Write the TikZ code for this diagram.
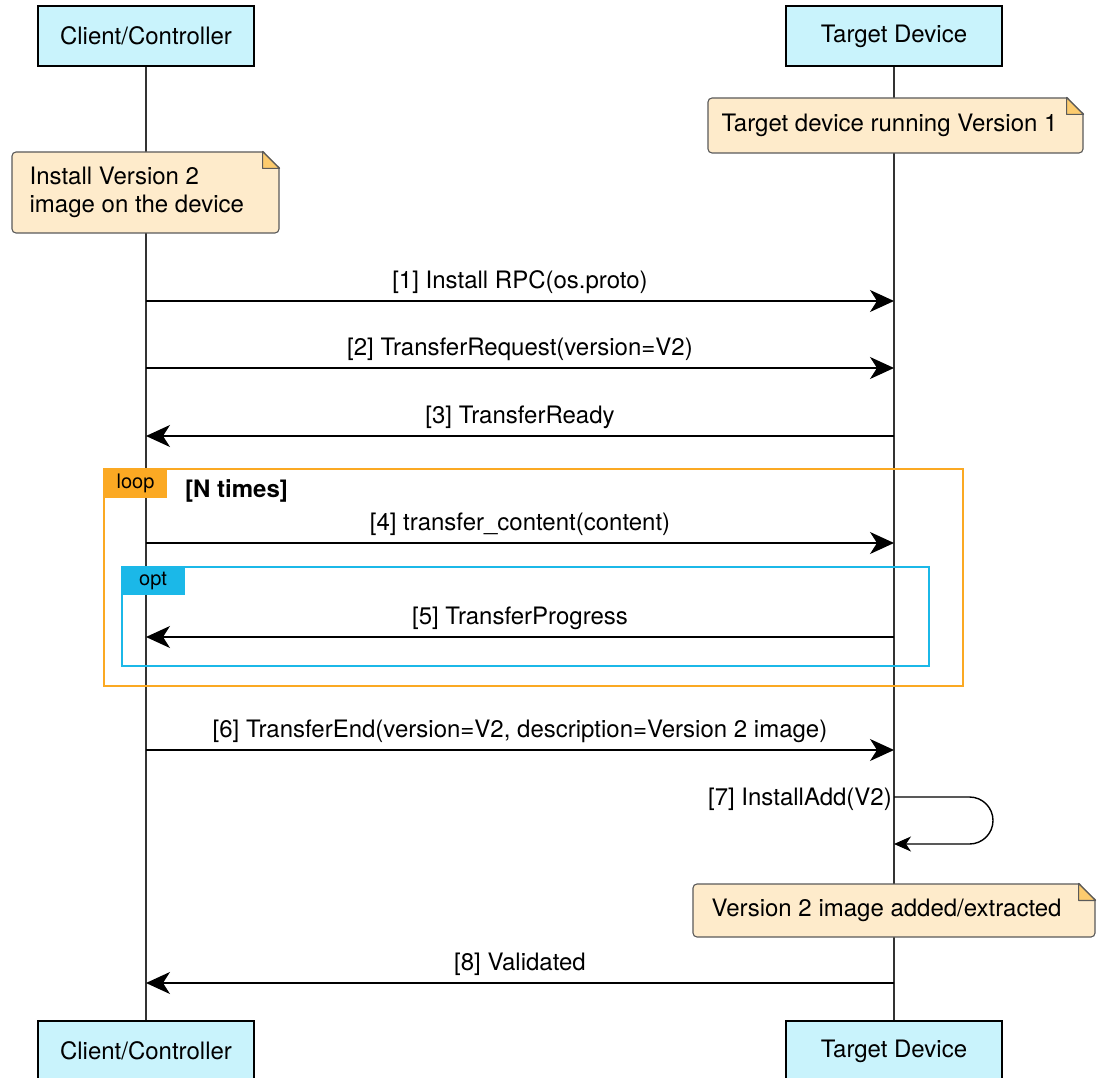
\documentclass[tikz,border=0pt]{standalone}
\usepackage{fontspec}
\setmainfont{TeX Gyre Heros}
\usetikzlibrary{arrows.meta,calc}
\definecolor{partfill}{HTML}{C9F3FC}
\definecolor{notefill}{HTML}{FEEBCB}
\definecolor{earfill}{HTML}{FCCB6E}
\definecolor{noteline}{HTML}{5A5A5A}
\definecolor{looporange}{HTML}{FBA923}
\definecolor{optblue}{HTML}{1BB8E8}
\definecolor{lifegray}{HTML}{333333}
\tikzset{
  participant/.style={draw=black, line width=1.6pt, fill=partfill, minimum width=216, minimum height=60, inner sep=0pt, font=\fontsize{24}{28}\selectfont},
  notebox/.style={draw=noteline, line width=1.1pt, fill=notefill, rounded corners=4pt, inner sep=0pt},
  notetext/.style={inner sep=0pt, anchor=west, font=\fontsize{24}{28.5}\selectfont},
  ear/.style={draw=noteline, line width=1.1pt, fill=earfill, line join=round},
  lifeline/.style={draw=lifegray, line width=1.6pt},
  msg/.style={draw=black, line width=1.4pt, -{Stealth[length=24pt, width=22pt, inset=7pt]}},
  selfmsg/.style={draw=black, line width=1.4pt, -{Stealth[length=17pt, width=15pt, inset=5pt]}},
  msglabel/.style={anchor=base, inner sep=0pt, font=\fontsize{24}{28}\selectfont},
  frameloop/.style={draw=looporange, line width=1.6pt},
  frameopt/.style={draw=optblue, line width=1.6pt},
  tablabel/.style={anchor=center, inner sep=0pt, font=\fontsize{20}{24}\selectfont},
}
\begin{document}
\begin{tikzpicture}[x=1pt, y=-1pt]
\useasboundingbox (0,0) rectangle (1098,1078);
\fill[white] (0,0) rectangle (1098,1078);

% participants
\node[participant] (ct) at (146,36) {Client/Controller};
\node[participant] (tt) at (894,36) {Target Device};
\node[participant] (cb) at (146,1051) {Client/Controller};
\node[participant] (tb) at (894,1051) {Target Device};

% lifelines
\draw[lifeline] (ct.south) -- (cb.north);
\draw[lifeline] (tt.south) -- (tb.north);

% notes
\node[notebox, minimum width=375, minimum height=55] (n1) at (895.5,125.5) {};
\node[notetext] (n1t) at ($(n1.west)+(14,0)$) {Target device running Version 1};
\filldraw[ear] ($(n1.north east)+(-17,0)$) -- ($(n1.north east)+(-17,17)$) -- ($(n1.north east)+(0,17)$) -- cycle;
\fill[white] ($(n1.north east)+(-17,-1.5)$) -- ($(n1.north east)+(1.5,-1.5)$) -- ($(n1.north east)+(1.5,17)$) -- cycle;
\draw[draw=noteline, line width=1.1pt] ($(n1.north east)+(-17,0)$) -- ($(n1.north east)+(0,17)$);

\node[notebox, minimum width=267, minimum height=81] (n2) at (145.5,192.5) {};
\node[notetext, align=left] (n2t) at ($(n2.west)+(18,0)$) {Install Version 2\\image on the device};
\filldraw[ear] ($(n2.north east)+(-17,0)$) -- ($(n2.north east)+(-17,17)$) -- ($(n2.north east)+(0,17)$) -- cycle;
\fill[white] ($(n2.north east)+(-17,-1.5)$) -- ($(n2.north east)+(1.5,-1.5)$) -- ($(n2.north east)+(1.5,17)$) -- cycle;
\draw[draw=noteline, line width=1.1pt] ($(n2.north east)+(-17,0)$) -- ($(n2.north east)+(0,17)$);

\node[notebox, minimum width=402, minimum height=53] (n3) at (894,910.5) {};
\node[notetext] (n3t) at ($(n3.west)+(19,0)$) {Version 2 image added/extracted};
\filldraw[ear] ($(n3.north east)+(-17,0)$) -- ($(n3.north east)+(-17,17)$) -- ($(n3.north east)+(0,17)$) -- cycle;
\fill[white] ($(n3.north east)+(-17,-1.5)$) -- ($(n3.north east)+(1.5,-1.5)$) -- ($(n3.north east)+(1.5,17)$) -- cycle;
\draw[draw=noteline, line width=1.1pt] ($(n3.north east)+(-17,0)$) -- ($(n3.north east)+(0,17)$);

% message coordinates
\coordinate (L1) at (146,301); \coordinate (R1) at (894,301);
\coordinate (L2) at (146,368); \coordinate (R2) at (894,368);
\coordinate (L3) at (146,436); \coordinate (R3) at (894,436);
\coordinate (L4) at (146,543); \coordinate (R4) at (894,543);
\coordinate (L5) at (146,637); \coordinate (R5) at (894,637);
\coordinate (L6) at (146,750); \coordinate (R6) at (894,750);
\coordinate (S7) at (894,797); \coordinate (E7) at (894,844);
\coordinate (L8) at (146,983); \coordinate (R8) at (894,983);

% frames
\draw[frameloop] (104,469) rectangle (963,686);
\fill[looporange] (104,469) rectangle (167,498);
\node[tablabel] (looplbl) at (135.5,483) {loop};
\node[anchor=base west, inner sep=0pt, font=\fontsize{24}{28}\selectfont\bfseries] (loopcond) at (185,497) {[N times]};

\draw[frameopt] (122,567) rectangle (929,666);
\fill[optblue] (122,567) rectangle (185,595);
\node[tablabel] (optlbl) at (153,581) {opt};

% messages
\draw[msg] (L1) -- (R1);
\node[msglabel] (t1) at ($(L1)!0.5!(R1)+(0,-13)$) {[1] Install RPC(os.proto)};
\draw[msg] (L2) -- (R2);
\node[msglabel] (t2) at ($(L2)!0.5!(R2)+(0,-13)$) {[2] TransferRequest(version=V2)};
\draw[msg] (R3) -- (L3);
\node[msglabel] (t3) at ($(L3)!0.5!(R3)+(0,-13)$) {[3] TransferReady};
\draw[msg] (L4) -- (R4);
\node[msglabel] (t4) at ($(L4)!0.5!(R4)+(0,-13)$) {[4] transfer\_content(content)};
\draw[msg] (R5) -- (L5);
\node[msglabel] (t5) at ($(L5)!0.5!(R5)+(0,-13)$) {[5] TransferProgress};
\draw[msg] (L6) -- (R6);
\node[msglabel] (t6) at ($(L6)!0.5!(R6)+(0,-13)$) {[6] TransferEnd(version=V2, description=Version 2 image)};
\draw[selfmsg] (S7) -- (969.5,797) arc (-90:90:23.5) -- (E7);
\node[anchor=base east, inner sep=0pt, font=\fontsize{24}{28}\selectfont] (t7) at (892,805) {[7] InstallAdd(V2)};
\draw[msg] (R8) -- (L8);
\node[msglabel] (t8) at ($(L8)!0.5!(R8)+(0,-13)$) {[8] Validated};
\end{tikzpicture}
\end{document}
